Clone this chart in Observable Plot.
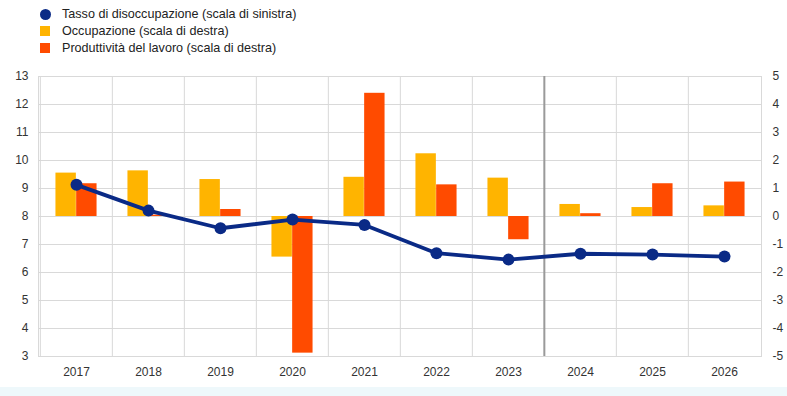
<!DOCTYPE html>
<html>
<head>
<meta charset="utf-8">
<script src="https://cdn.jsdelivr.net/npm/d3@7"></script>
<script src="https://cdn.jsdelivr.net/npm/@observablehq/plot@0.6"></script>
<style>
  html, body { margin: 0; padding: 0; background: #fff; }
  body { width: 787px; height: 396px; position: relative; overflow: hidden; font-family: "Liberation Sans", Arial, sans-serif; }
  #legend { position: absolute; left: 0; top: 0; width: 787px; height: 60px; }
  .item { position: absolute; left: 62px; font-size: 12.6px; color: #222; line-height: 14px; white-space: nowrap; }
  .sym { position: absolute; }
  #chart { position: absolute; left: 0; top: 60px; }
  #strip { position: absolute; left: 0; top: 387px; width: 787px; height: 9px; background: #eef8fb; }
</style>
</head>
<body>
<div id="legend"></div>
<div id="chart"></div>
<div id="strip"></div>
<script>
const years = ["2017","2018","2019","2020","2021","2022","2023","2024","2025","2026"];
const unemployment = [9.13, 8.21, 7.58, 7.89, 7.70, 6.69, 6.46, 6.67, 6.64, 6.57];
const employment = [1.55, 1.63, 1.32, -1.45, 1.40, 2.24, 1.37, 0.43, 0.32, 0.38];
const productivity = [1.17, 0.05, 0.25, -4.88, 4.40, 1.13, -0.83, 0.10, 1.17, 1.23];
const leftTicks = [3,4,5,6,7,8,9,10,11,12,13];
const rightTicks = [-5,-4,-3,-2,-1,0,1,2,3,4,5];
const seriesNames = ["Tasso di disoccupazione (scala di sinistra)", "Occupazione (scala di destra)", "Produttività del lavoro (scala di destra)"];
const projectionStart = "2024";

const colors = { blue: "#0a2a86", yellow: "#FFB400", orange: "#FF4B00" };
const offset = 8; // right scale 0 corresponds to left scale 8

// legend
const legend = document.getElementById("legend");
const legendRows = [
  { name: seriesNames[0], color: colors.blue, shape: "circle" },
  { name: seriesNames[1], color: colors.yellow, shape: "square" },
  { name: seriesNames[2], color: colors.orange, shape: "square" }
];
legendRows.forEach((r, i) => {
  const y = 14 + i * 17;
  const s = document.createElement("div");
  s.className = "sym";
  s.style.background = r.color;
  if (r.shape === "circle") {
    s.style.left = "40px"; s.style.top = (y - 5) + "px"; s.style.width = "11px"; s.style.height = "11px"; s.style.borderRadius = "50%";
  } else {
    s.style.left = "40px"; s.style.top = (y - 5) + "px"; s.style.width = "10px"; s.style.height = "10px";
  }
  legend.appendChild(s);
  const t = document.createElement("div");
  t.className = "item";
  t.style.top = (y - 7) + "px";
  t.textContent = r.name;
  legend.appendChild(t);
});

const rows = years.map((y, i) => ({ year: y, u: unemployment[i], emp: employment[i], prod: productivity[i] }));

const W = 787, H = 336;
const mL = 38, mR = 26;
const band = (W - mL - mR) / years.length;
const half = band / 2;
const barW = 20.7;

const chart = Plot.plot({
  width: W,
  height: H,
  marginTop: 16,
  marginBottom: 40,
  marginLeft: mL,
  marginRight: mR,
  style: { fontFamily: "'Liberation Sans', Arial, sans-serif", fontSize: "12px", color: "#333", background: "#fff" },
  x: { type: "band", domain: years, padding: 0, label: null },
  y: { domain: [3, 13], label: null },
  marks: [
    Plot.gridY(leftTicks, { stroke: "#d9d9d9", strokeOpacity: 1 }),
    Plot.ruleX(years, { x: d => d, dx: -half, stroke: "#d9d9d9" }),
    Plot.frame({ stroke: "#d9d9d9" }),
    Plot.ruleX([projectionStart], { x: d => d, dx: -half, stroke: "#9a9a9a", strokeWidth: 2 }),
    Plot.rectY(rows, { x: "year", y1: offset, y2: d => d.emp + offset, fill: colors.yellow, insetLeft: half - barW, insetRight: half }),
    Plot.rectY(rows, { x: "year", y1: offset, y2: d => d.prod + offset, fill: colors.orange, insetLeft: half, insetRight: half - barW }),
    Plot.line(rows, { x: "year", y: "u", stroke: colors.blue, strokeWidth: 3.8 }),
    Plot.dot(rows, { x: "year", y: "u", r: 6, fill: colors.blue }),
    Plot.axisY(leftTicks, { anchor: "left", tickSize: 0, tickPadding: 10, label: null }),
    Plot.axisY(rightTicks.map(v => v + offset), { anchor: "right", tickSize: 0, tickPadding: 11, label: null, tickFormat: d => String(d - offset) }),
    Plot.axisX(years, { anchor: "bottom", tickSize: 0, tickPadding: 11, label: null })
  ]
});
document.getElementById("chart").appendChild(chart);
</script>
</body>
</html>
